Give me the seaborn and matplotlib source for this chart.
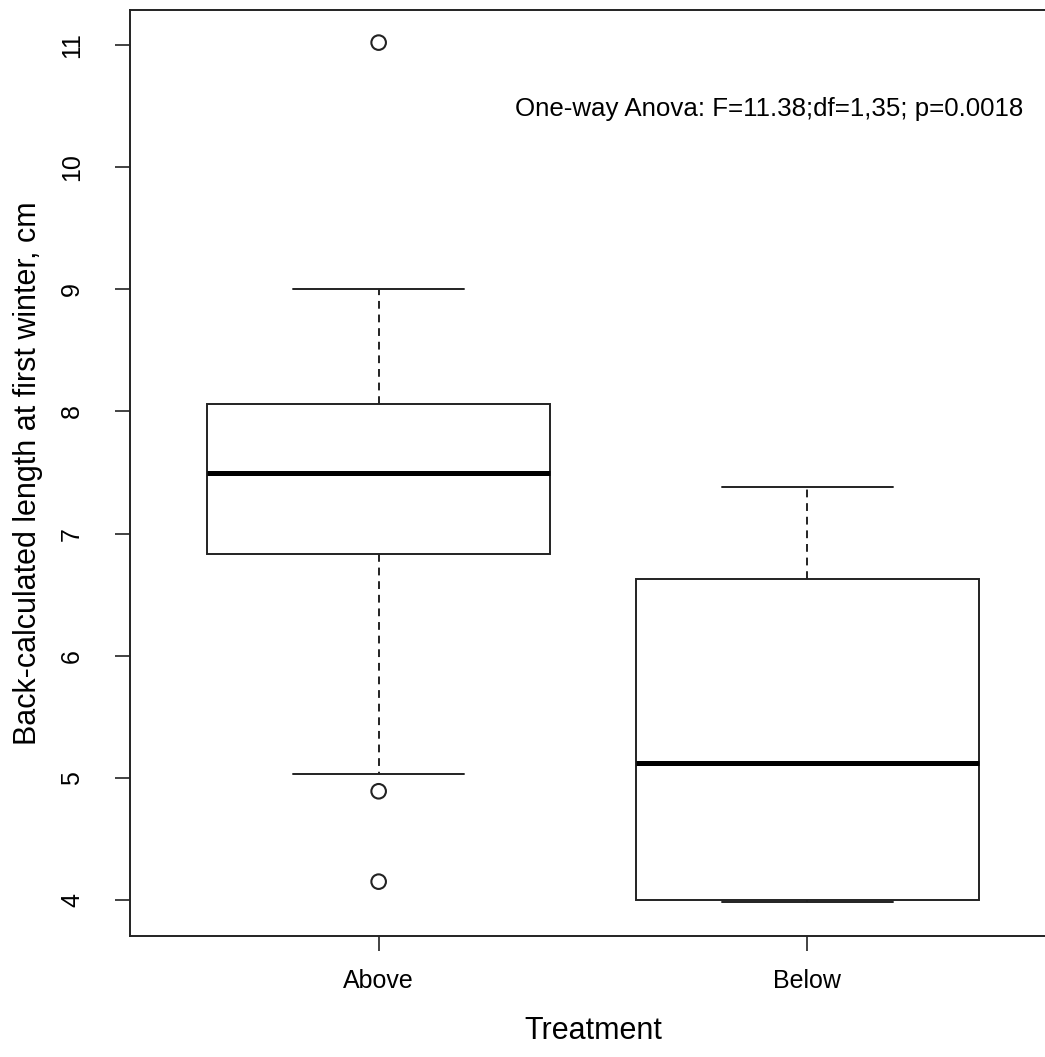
import matplotlib
matplotlib.use("Agg")
import pandas as pd
import seaborn as sns
import matplotlib.pyplot as plt

# Summary values
groups = ["Above", "Below"]
whisker_low = [5.03, 3.98]
q1 = [6.83, 4.00]
medians = [7.50, 5.12]
q3 = [8.06, 6.63]
whisker_high = [9.00, 7.38]

# Points beyond the whiskers
outlier_group = ["Above", "Above", "Above"]
outlier_value = [11.02, 4.89, 4.15]

annotation = "One-way Anova: F=11.38;df=1,35; p=0.0018"

sns.set_theme(style="white")
plt.rcParams["font.family"] = ["Liberation Sans", "DejaVu Sans"]

fig = plt.figure(figsize=(10.45, 10.57), dpi=100)
ax = fig.add_axes([130 / 1045, 1 - 936 / 1057, 926 / 1045, 926 / 1057])

positions = [1, 2]
stats = []
for i, g in enumerate(groups):
    stats.append({"label": g, "whislo": whisker_low[i], "q1": q1[i], "med": medians[i],
                  "q3": q3[i], "whishi": whisker_high[i], "fliers": []})

lw = 1.4
ax.bxp(stats, positions=positions, widths=0.8, capwidths=0.4, showfliers=False,
       patch_artist=True,
       boxprops=dict(facecolor="white", edgecolor="#222222", linewidth=lw),
       whiskerprops=dict(color="#222222", linewidth=lw, linestyle=(0, (4, 3))),
       capprops=dict(color="#222222", linewidth=lw),
       medianprops=dict(color="black", linewidth=3.6, solid_capstyle="butt"))

out = pd.DataFrame({"x": [positions[groups.index(g)] for g in outlier_group],
                    "y": outlier_value})
sns.scatterplot(data=out, x="x", y="y", ax=ax, marker="o", s=110,
                facecolor="none", edgecolor="#222222", linewidth=1.5, zorder=5)

ax.text(1.911, 10.48, annotation, ha="center", va="center", fontsize=18.6, color="black")

ax.set_xlim(0.42, 2.58)
ax.set_ylim(3.705, 11.287)
ax.set_xticks(positions)
ax.set_xticklabels(groups)
ax.set_yticks(range(4, 12))
ax.set_yticklabels([str(v) for v in range(4, 12)], rotation=90, va="center")
ax.tick_params(axis="both", direction="out", length=11, width=1.2, color="#222222",
               labelsize=18, labelcolor="black")
ax.tick_params(axis="x", bottom=True, pad=13)
ax.tick_params(axis="y", left=True, pad=22)

ax.set_xlabel("Treatment", fontsize=22, labelpad=16, color="black")
ax.set_ylabel("Back-calculated length at first winter, cm", fontsize=22, labelpad=12,
              color="black")

for s in ax.spines.values():
    s.set_color("#222222")
    s.set_linewidth(1.4)

fig.savefig("out.png", dpi=100)
